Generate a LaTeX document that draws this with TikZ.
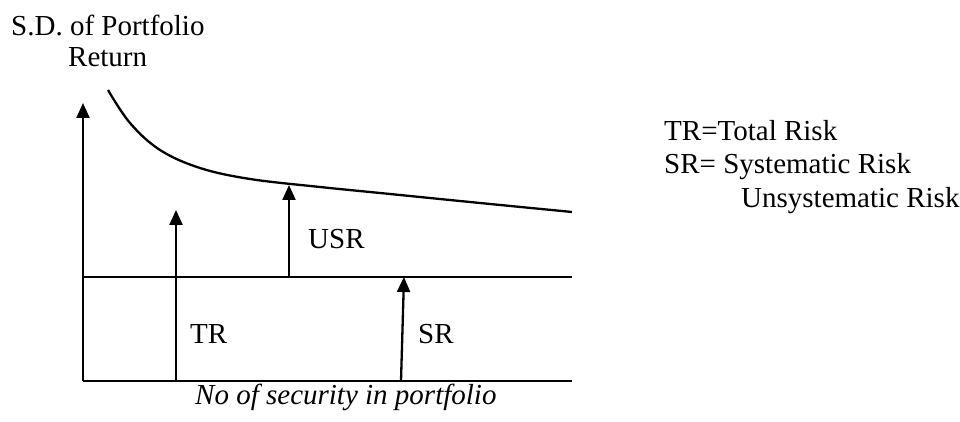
\documentclass[tikz,border=0pt]{standalone}
\usepackage{fontspec}
\setmainfont{Liberation Serif}
\usetikzlibrary{arrows.meta}
\begin{document}
\begin{tikzpicture}[x=1pt,y=1pt,
  ln/.style={line width=2.3pt},
  arr/.style={ln,-{Triangle[width=13pt,length=15pt]}},
  lbl/.style={inner sep=0pt,anchor=base west,font=\fontsize{29}{34}\selectfont}]
\useasboundingbox (0,0) rectangle (960,422);
% coordinates
\coordinate (o) at (83,41);
\coordinate (ytop) at (83,319);
\coordinate (xend) at (572,41);
\coordinate (ml) at (83,145);
\coordinate (mr) at (572,145);
\coordinate (trb) at (176,41);
\coordinate (trt) at (176,212);
\coordinate (srb) at (401,41);
\coordinate (srt) at (404,145);
\coordinate (usb) at (289,145);
\coordinate (ust) at (289,237);
% axes and lines
\draw[arr] (o) -- (ytop);
\draw[ln] (o) -- (xend);
\draw[ln] (ml) -- (mr);
\draw[arr] (trb) -- (trt);
\draw[arr] (srb) -- (srt);
\draw[arr] (usb) -- (ust);
% curve
\draw[ln] plot[smooth,tension=0.6] coordinates {(108,332) (130,299) (160,272) (200,254) (250,243) (320,235) (380,229) (480,219) (572,210)};
% labels
\node[lbl] (tr) at (190,78) {TR};
\node[lbl] (sr) at (418,78) {SR};
\node[lbl] (usr) at (308,173) {USR};
\node[lbl] (xl) at (195,17) {\itshape No of security in portfolio};
\node[lbl] (yl1) at (11,386) {S.D. of Portfolio};
\node[lbl] (yl2) at (68,355) {Return};
\node[lbl] (lg1) at (664,281) {TR=Total Risk};
\node[lbl] (lg2) at (664,248) {SR= Systematic Risk};
\node[lbl] (lg3) at (741,214) {Unsystematic Risk};
\end{tikzpicture}
\end{document}
